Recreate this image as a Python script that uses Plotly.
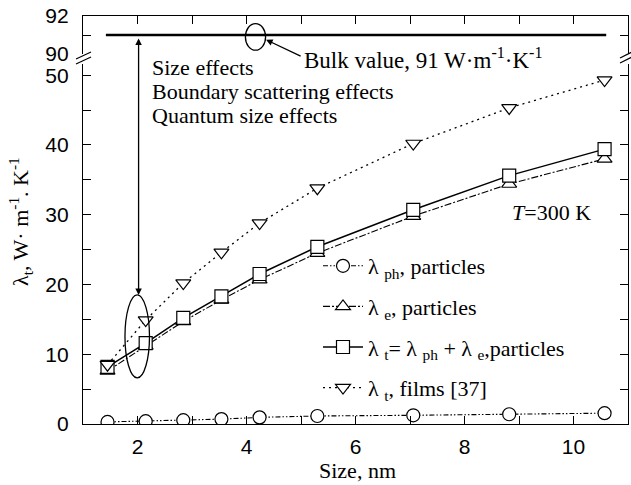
import plotly.graph_objects as go

# ---------------- data ----------------
size_nm = [1.45, 2.15, 2.84, 3.54, 4.24, 5.30, 7.06, 8.82, 10.57]
lam_ph = [0.3, 0.4, 0.55, 0.7, 0.95, 1.15, 1.25, 1.4, 1.55]
lam_e = [7.6, 11.2, 14.7, 17.8, 20.7, 24.5, 29.8, 34.4, 38.0]
lam_t = [8.2, 11.6, 15.2, 18.3, 21.5, 25.4, 30.7, 35.6, 39.4]
lam_films = [8.5, 14.9, 20.2, 24.6, 28.8, 33.8, 40.2, 45.3, 49.3]
bulk_x = [1.42, 10.6]
bulk_y = [91, 91]

names = [
    "λ <sub>ph</sub>, particles",
    "λ <sub>e</sub>, particles",
    "λ <sub>t</sub>= λ <sub>ph</sub> + λ <sub>e</sub>,particles",
    "λ <sub>t</sub>, films [37]",
]

# ---------------- layout geometry (pixels) ----------------
W, H = 631, 485
L, R, T, B = 83, 3, 16, 61
PW, PH = W - L - R, H - T - B


def px(xp):
    return (xp - L) / PW


def py(yp):
    return (H - B - yp) / PH


SERIF = "Liberation Serif"
SANS = "Liberation Sans"

fig = go.Figure()

mk = dict(size=13, color="white", line=dict(color="black", width=1.2))

fig.add_trace(go.Scatter(
    x=size_nm, y=lam_ph, name=names[0], mode="lines+markers",
    line=dict(color="black", width=1.1, dash="5px,2px,1.5px,2px,1.5px,2px"),
    marker=dict(symbol="circle", **mk), legendgroup="a"))
fig.add_trace(go.Scatter(
    x=size_nm, y=lam_e, name=names[1], mode="lines+markers",
    line=dict(color="black", width=1.1, dash="7px,2px,2px,2px"),
    marker=dict(symbol="triangle-up", **mk), legendgroup="b"))
fig.add_trace(go.Scatter(
    x=size_nm, y=lam_t, name=names[2], mode="lines+markers",
    line=dict(color="black", width=1.5),
    marker=dict(symbol="square", **mk), legendgroup="c"))
fig.add_trace(go.Scatter(
    x=size_nm, y=lam_films, name=names[3], mode="lines+markers",
    line=dict(color="black", width=1.3, dash="2px,4px"),
    marker=dict(symbol="triangle-down", **mk), legendgroup="d"))
fig.add_trace(go.Scatter(
    x=bulk_x, y=bulk_y, xaxis="x2", yaxis="y2", mode="lines",
    line=dict(color="black", width=2.6), showlegend=False, hoverinfo="skip"))

lower_top = py(64)
upper_bot = py(54)

tickfont = dict(family=SANS, size=21, color="black")
common = dict(showline=True, linecolor="black", linewidth=1.2, ticks="inside",
              tickcolor="black", ticklen=8, tickwidth=1.2, showgrid=False,
              zeroline=False, tickfont=tickfont)

fig.update_layout(
    width=W, height=H,
    margin=dict(l=L, r=R, t=T, b=B),
    paper_bgcolor="white", plot_bgcolor="white",
    xaxis=dict(range=[1, 11], dtick=2, tick0=0, anchor="y",
               minor=dict(dtick=1, tick0=0, ticks="inside", ticklen=8,
                          tickcolor="black", tickwidth=1.2),
               ticklabelstandoff=4, **common),
    xaxis2=dict(range=[1, 11], matches="x", anchor="y2", side="top", dtick=2, tick0=0,
                showticklabels=False,
                minor=dict(dtick=1, tick0=0, ticks="inside", ticklen=8,
                           tickcolor="black", tickwidth=1.2),
                **common),
    yaxis=dict(domain=[0, lower_top], range=[0, (H - B - 64) / 6.977], dtick=10, tick0=0,
               anchor="x", mirror="ticks",
               minor=dict(dtick=5, tick0=0, ticks="inside", ticklen=8,
                          tickcolor="black", tickwidth=1.2),
               ticklabelstandoff=9, **common),
    yaxis2=dict(domain=[upper_bot, 1], range=[90, 92], dtick=2, tick0=90,
                anchor="x2", mirror="ticks",
                minor=dict(dtick=1, tick0=90, ticks="inside", ticklen=8,
                           tickcolor="black", tickwidth=1.2),
                ticklabelstandoff=9, **common),
    showlegend=True,
    legend=dict(x=px(318), y=py(245), xanchor="left", yanchor="top",
                bgcolor="rgba(0,0,0,0)", borderwidth=0,
                font=dict(family=SERIF, size=22, color="black"),
                tracegroupgap=9, itemwidth=40),
)

# ellipses and break marks
fig.add_shape(type="circle", xref="x", yref="y", x0=1.77, x1=2.22, y0=6.6, y1=18.5,
              line=dict(color="black", width=1.3))
fig.add_shape(type="circle", xref="x2", yref="y2", x0=3.98, x1=4.35, y0=90.2, y1=91.6,
              line=dict(color="black", width=1.3))
for (x0, y0, x1, y1) in [(76, 59, 91, 52), (76, 64, 91, 57), (620, 58, 634, 51), (620, 63, 634, 56)]:
    fig.add_shape(type="line", xref="paper", yref="paper",
                  x0=px(x0), y0=py(y0), x1=px(x1), y1=py(y1),
                  line=dict(color="black", width=1.2))

# arrows
fig.add_annotation(x=2.02, y=18.5, xref="x", yref="y", ax=0, ay=-258, text="",
                   showarrow=True, arrowhead=2, startarrowhead=2, arrowside="end+start",
                   arrowsize=1, arrowwidth=1.3, arrowcolor="black")
fig.add_annotation(x=4.36, y=90.75, xref="x2", yref="y2", ax=36, ay=17, text="",
                   showarrow=True, arrowhead=2, arrowsize=1, arrowwidth=1.3,
                   arrowcolor="black")

txt = dict(family=SERIF, size=22, color="black")
big = dict(family=SERIF, size=23, color="black")
for s, xx, yy, f in [("Size effects", 150, 67, txt),
                     ("Boundary scattering effects", 150, 91, txt),
                     ("Quantum size effects", 150, 115, txt),
                     ("Bulk value, 91 W·m<sup>-1</sup>·K<sup>-1</sup>", 302, 59, big),
                     ("<i>T</i>=300 K", 510, 213, txt)]:
    fig.add_annotation(x=px(xx), y=py(yy), xref="paper", yref="paper", text=s,
                       showarrow=False, xanchor="left", yanchor="middle", font=f)

fig.add_annotation(x=px(357), y=py(470), xref="paper", yref="paper", text="Size, nm",
                   showarrow=False, xanchor="center", yanchor="middle", font=txt)
fig.add_annotation(x=px(20), y=py(222), xref="paper", yref="paper",
                   text="λ<sub>t</sub>, W· m<sup>-1</sup>. K<sup>-1</sup>",
                   showarrow=False, textangle=-90, xanchor="center", yanchor="middle",
                   font=txt)

fig.write_html("out.html")
